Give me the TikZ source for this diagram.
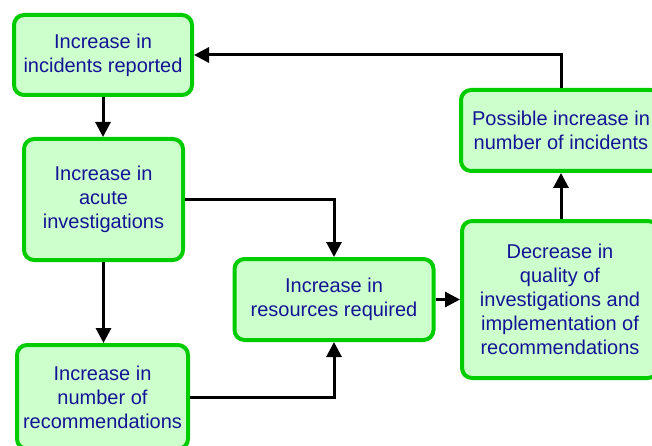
\documentclass[tikz,border=0pt]{standalone}
\usepackage{fontspec}
\setmainfont{Liberation Sans}
\usetikzlibrary{arrows.meta}
\definecolor{boxline}{RGB}{0,204,0}
\definecolor{boxfill}{RGB}{204,255,204}
\definecolor{boxtext}{RGB}{20,20,150}
\begin{document}
\begin{tikzpicture}[x=1pt,y=-1pt,
  flowbox/.style={draw=boxline, fill=boxfill, line width=4pt, rounded corners=10pt,
    text=boxtext, align=center, inner sep=0pt,
    font=\fontsize{20}{24}\selectfont},
  arr/.style={draw=black, line width=3pt,
    -{Triangle[length=15pt,width=15pt]}}]
\useasboundingbox (0,0) rectangle (652,446);
\clip (0,0) rectangle (652,446);

\node[flowbox, minimum width=178pt, minimum height=80pt] (b1) at (103,55)
  {Increase in\\incidents reported};
\node[flowbox, minimum width=159pt, minimum height=121pt] (b2) at (103.5,199.5)
  {Increase in\\acute\\investigations};
\node[flowbox, minimum width=171pt, minimum height=104pt] (b3) at (102.5,397)
  {Increase in\\number of\\recommendations};
\node[flowbox, minimum width=199pt, minimum height=81pt] (b4) at (334,299.5)
  {Increase in\\resources required};
\node[flowbox, minimum width=196pt, minimum height=157pt] (b5) at (560,299.5)
  {Decrease in\\quality of\\investigations and\\implementation of\\recommendations};
\node[flowbox, minimum width=200pt, minimum height=81pt] (b6) at (561,130.5)
  {Possible increase in\\number of incidents};

\draw[arr] (b6.north) |- (b1.east);
\draw[arr] (b1.south) -- (b1.south |- b2.north);
\draw[arr] (b2.south) -- (b2.south |- b3.north);
\draw[arr] (b2.east) -| (b4.north);
\draw[arr] (b3.east) -| (b4.south);
\draw[arr] (b4.east) -- (b5.west);
\draw[arr] (b5.north -| b6.south) -- (b6.south);
\end{tikzpicture}
\end{document}
